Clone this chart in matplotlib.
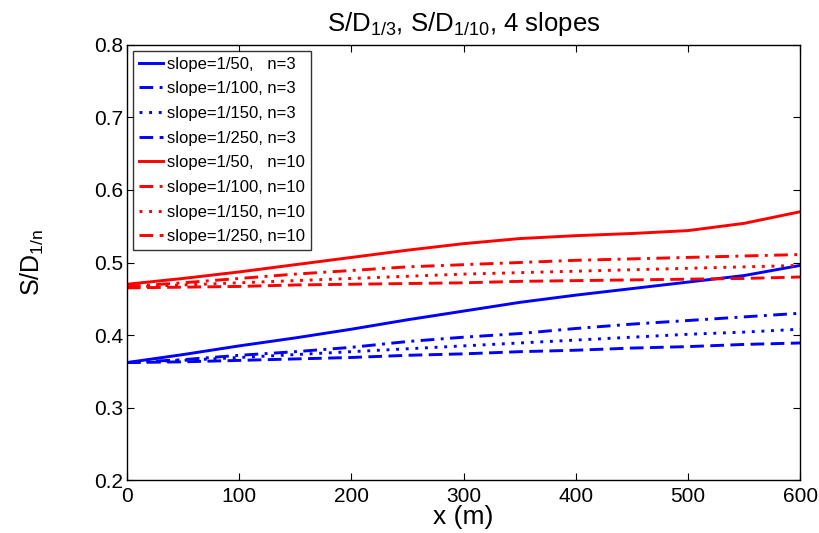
import matplotlib
matplotlib.use("Agg")
import matplotlib.pyplot as plt

plt.rcParams["font.family"] = ["Liberation Sans", "DejaVu Sans"]
plt.rcParams["mathtext.fontset"] = "custom"
plt.rcParams["mathtext.rm"] = "Liberation Sans"
plt.rcParams["mathtext.default"] = "regular"

# distance along the profile (m)
x = [0, 50, 100, 150, 200, 250, 300, 350, 400, 450, 500, 550, 600]

# n = 3
b50 = [0.362, 0.373, 0.385, 0.396, 0.408, 0.421, 0.433, 0.445, 0.455, 0.464, 0.473, 0.482, 0.496]
b100 = [0.362, 0.366, 0.372, 0.377, 0.383, 0.391, 0.397, 0.402, 0.409, 0.415, 0.420, 0.425, 0.430]
b150 = [0.362, 0.365, 0.369, 0.373, 0.377, 0.381, 0.385, 0.389, 0.393, 0.397, 0.401, 0.404, 0.408]
b250 = [0.362, 0.363, 0.365, 0.367, 0.369, 0.372, 0.374, 0.377, 0.379, 0.382, 0.384, 0.387, 0.389]

# n = 10
r50 = [0.470, 0.478, 0.487, 0.497, 0.507, 0.517, 0.526, 0.533, 0.537, 0.540, 0.544, 0.554, 0.570]
r100 = [0.467, 0.472, 0.478, 0.484, 0.489, 0.494, 0.497, 0.500, 0.503, 0.505, 0.507, 0.509, 0.511]
r150 = [0.466, 0.469, 0.472, 0.475, 0.478, 0.481, 0.484, 0.486, 0.488, 0.490, 0.492, 0.494, 0.496]
r250 = [0.465, 0.466, 0.467, 0.469, 0.470, 0.471, 0.472, 0.474, 0.475, 0.476, 0.477, 0.478, 0.480]

labels = [
    "slope=1/50,   n=3", "slope=1/100, n=3", "slope=1/150, n=3", "slope=1/250, n=3",
    "slope=1/50,   n=10", "slope=1/100, n=10", "slope=1/150, n=10", "slope=1/250, n=10",
]

fig = plt.figure(figsize=(8.19, 5.33), dpi=100)
ax = fig.add_axes([0.155, 0.0994, 0.822, 0.8162])

# matlab-ish line styles: solid, dash-dot, dotted, dashed
styles = ["-", (0, (4.7, 2.2, 1, 2.2)), (0, (1, 2.3)), (0, (4.7, 2.2))]
series = [b50, b100, b150, b250, r50, r100, r150, r250]
for i, y in enumerate(series):
    color = "#0000ff" if i < 4 else "#ff0000"
    ax.plot(x, y, color=color, linestyle=styles[i % 4], linewidth=2.1, label=labels[i])

ax.set_xlim(0, 600)
ax.set_ylim(0.2, 0.8)
ax.set_xticks([0, 100, 200, 300, 400, 500, 600])
ax.set_yticks([0.2, 0.3, 0.4, 0.5, 0.6, 0.7, 0.8])
ax.tick_params(direction="in", top=True, right=True, length=5, labelsize=15)
ax.tick_params(axis="x", pad=5)
ax.tick_params(axis="y", pad=3)
for s in ax.spines.values():
    s.set_linewidth(1.0)

ax.set_title("S/D$_{1/3}$, S/D$_{1/10}$, 4 slopes", fontsize=18.5, pad=10)
ax.set_xlabel("x (m)", fontsize=19, labelpad=-1)
ax.set_ylabel("S/D$_{1/n}$", fontsize=18)
ax.yaxis.set_label_coords(-0.12, 0.5)

leg = ax.legend(loc="upper left", fontsize=12, frameon=True, fancybox=False,
                edgecolor="black", handlelength=1.44, handletextpad=0.25,
                labelspacing=0.58, borderaxespad=0.35, borderpad=0.35)
leg.get_frame().set_linewidth(1.0)

fig.savefig("out.png", dpi=100)
